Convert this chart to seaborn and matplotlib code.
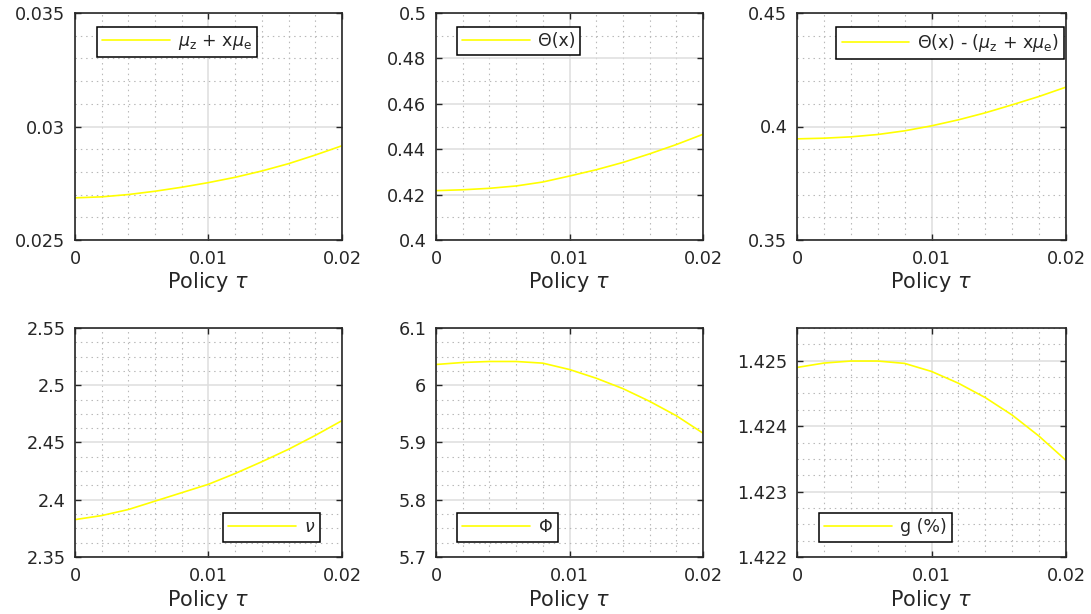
import numpy as np
import pandas as pd
import matplotlib
matplotlib.use("Agg")
import matplotlib.pyplot as plt
from matplotlib.ticker import MultipleLocator, FixedLocator, FuncFormatter
import seaborn as sns

# ---------------- data ----------------
tau = [0.000, 0.002, 0.004, 0.006, 0.008, 0.010, 0.012, 0.014, 0.016, 0.018, 0.020]

mu_sum = [0.026857, 0.026901, 0.027003, 0.027149, 0.027325, 0.027529,
          0.027763, 0.028041, 0.028363, 0.028743, 0.029152]
theta = [0.42175, 0.42212, 0.42277, 0.42380, 0.42555, 0.42818,
         0.43095, 0.43416, 0.43796, 0.44204, 0.44657]
theta_minus = [0.39456, 0.39485, 0.39544, 0.39647, 0.39809, 0.40029,
               0.40294, 0.40603, 0.40956, 0.41324, 0.41735]
nu = [2.38265, 2.38618, 2.39147, 2.39882, 2.40618, 2.41353,
      2.42294, 2.43324, 2.44412, 2.45618, 2.46912]
phi = [6.03626, 6.03977, 6.04152, 6.04152, 6.03860, 6.02749,
       6.01228, 5.99415, 5.97193, 5.94678, 5.91637]
g_pct = [1.424897, 1.424964, 1.424995, 1.424995, 1.424959, 1.424836,
         1.424656, 1.424436, 1.424169, 1.423846, 1.423477]

labels = [r"$\mu_{\rm z}$ + x$\mu_{\rm e}$",
          "Θ(x)",
          r"Θ(x) - ($\mu_{\rm z}$ + x$\mu_{\rm e}$)",
          r"$\nu$",
          r"$\Phi$",
          "g (%)"]

x_ticks = [0, 0.01, 0.02]
y_ticks = [[0.025, 0.03, 0.035],
           [0.4, 0.42, 0.44, 0.46, 0.48, 0.5],
           [0.35, 0.4, 0.45],
           [2.35, 2.4, 2.45, 2.5, 2.55],
           [5.7, 5.8, 5.9, 6.0, 6.1],
           [1.422, 1.423, 1.424, 1.425]]
y_lims = [(0.025, 0.035), (0.4, 0.5), (0.35, 0.45),
          (2.35, 2.55), (5.7, 6.1), (1.422, 1.4255)]
y_minor = [0.001, 0.01, 0.01, 0.0125, 0.025, 0.00025]
x_label = r"Policy $\tau$"

# ---------------- style ----------------
sns.set_theme(style="white")
plt.rcParams["font.family"] = ["DejaVu Sans"]
plt.rcParams["mathtext.fontset"] = "dejavusans"

W, H = 1091, 614
fig = plt.figure(figsize=(W / 100, H / 100), dpi=100)

cols = [(75, 342), (436, 703), (797, 1066)]
rows = [(13, 240), (328, 557)]

legend_specs = [
    ("upper left", (0.0824, 0.938)),
    ("upper left", (0.0787, 0.938)),
    ("upper right", (0.9926, 0.938)),
    ("lower right", (0.9176, 0.067)),
    ("lower left", (0.0787, 0.067)),
    ("lower left", (0.0818, 0.067)),
]

series = [mu_sum, theta, theta_minus, nu, phi, g_pct]
axis_col = "#262626"

for i, vals in enumerate(series):
    r, c = divmod(i, 3)
    x0, x1 = cols[c]
    yt, yb = rows[r]
    ax = fig.add_axes([x0 / W, 1 - yb / H, (x1 - x0) / W, (yb - yt) / H])
    df = pd.DataFrame({"tau": tau, "val": vals})
    sns.lineplot(data=df, x="tau", y="val", ax=ax, color="#ffff00",
                 linewidth=1.2, label=labels[i])
    ax.set_xlim(0, 0.02)
    ax.set_ylim(*y_lims[i])
    ax.xaxis.set_major_locator(FixedLocator(x_ticks))
    ax.yaxis.set_major_locator(FixedLocator(y_ticks[i]))
    ax.xaxis.set_minor_locator(MultipleLocator(0.002))
    ax.yaxis.set_minor_locator(MultipleLocator(y_minor[i]))
    fmt = FuncFormatter(lambda v, p: "%g" % round(v, 6))
    ax.xaxis.set_major_formatter(fmt)
    ax.yaxis.set_major_formatter(fmt)
    ax.set_axisbelow(True)
    ax.grid(which="major", color="#dedede", linewidth=1.1, linestyle="-")
    ax.grid(which="minor", color="#b8b8b8", linewidth=0.8, linestyle=(0, (1.3, 3.5)))
    for sp in ax.spines.values():
        sp.set_visible(True)
        sp.set_color(axis_col)
        sp.set_linewidth(1.2)
    ax.tick_params(which="major", direction="in", length=4, width=1.0,
                   color=axis_col, labelcolor=axis_col, labelsize=12.7,
                   top=True, right=True, bottom=True, left=True, pad=7)
    ax.tick_params(which="minor", length=0)
    ax.tick_params(axis="x", pad=7)
    ax.set_xlabel(x_label, fontsize=15, color=axis_col, labelpad=2)
    ax.set_ylabel("")
    loc, anchor = legend_specs[i]
    leg = ax.legend(loc=loc, bbox_to_anchor=anchor, borderaxespad=0,
                    fontsize=12.5, handlelength=3.9, handletextpad=0.45,
                    borderpad=0.3, fancybox=False, framealpha=1,
                    edgecolor="black")
    leg.get_frame().set_linewidth(1.1)
    for t in leg.get_texts():
        t.set_color(axis_col)

fig.savefig("out.png", dpi=100)
